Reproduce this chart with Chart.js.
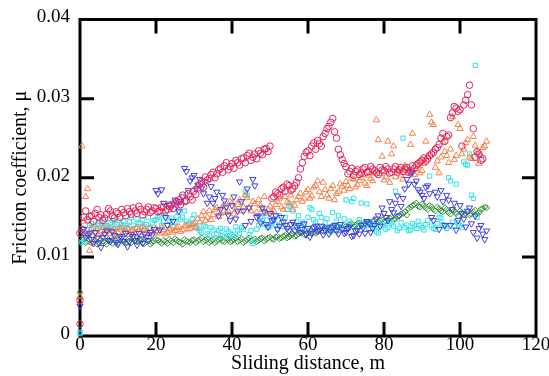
<!DOCTYPE html>
<html>
<head>
<meta charset="utf-8">
<script src="https://cdn.jsdelivr.net/npm/chart.js@4/dist/chart.umd.min.js"></script>
<style>
  html, body { margin: 0; padding: 0; background: #fff; }
</style>
</head>
<body>
<canvas id="myChart" width="549" height="376"></canvas>
<script>
// sliding distance (m): whole metres and the readings half a metre later
const distance = [0,1,2,3,4,5,6,7,8,9,10,11,12,13,14,15,16,17,18,19,20,21,22,23,24,25,26,27,28,29,
  30,31,32,33,34,35,36,37,38,39,40,41,42,43,44,45,46,47,48,49,50,51,52,53,54,55,56,57,58,59,
  60,61,62,63,64,65,66,67,68,69,70,71,72,73,74,75,76,77,78,79,80,81,82,83,84,85,86,87,88,89,
  90,91,92,93,94,95,96,97,98,99,100,101,102,103,104,105,106,107];
const distanceHalf = [0.5,1.5,2.5,3.5,4.5,5.5,6.5,7.5,8.5,9.5,10.5,11.5,12.5,13.5,14.5,15.5,16.5,17.5,18.5,19.5,
  20.5,21.5,22.5,23.5,24.5,25.5,26.5,27.5,28.5,29.5,30.5,31.5,32.5,33.5,34.5,35.5,36.5,37.5,38.5,39.5,
  40.5,41.5,42.5,43.5,44.5,45.5,46.5,47.5,48.5,49.5,50.5,51.5,52.5,53.5,54.5,55.5,56.5,57.5,58.5,59.5,
  60.5,61.5,62.5,63.5,64.5,65.5,66.5,67.5,68.5,69.5,70.5,71.5,72.5,73.5,74.5,75.5,76.5,77.5,78.5,79.5,
  80.5,81.5,82.5,83.5,84.5,85.5,86.5,87.5,88.5,89.5,90.5,91.5,92.5,93.5,94.5,95.5,96.5,97.5,98.5,99.5,
  100.5,101.5,102.5,103.5,104.5,105.5,106.5];

const xTicks = [0, 20, 40, 60, 80, 100, 120];
const yTicks = [0, 0.01, 0.02, 0.03, 0.04];

// friction coefficient
const redValues = [0.0045,0.0150,0.0147,0.0152,0.0155,0.0150,0.0146,0.0154,0.0158,0.0149,
  0.0155,0.0160,0.0152,0.0157,0.0162,0.0155,0.0160,0.0157,0.0163,0.0158,
  0.0161,0.0158,0.0163,0.0160,0.0166,0.0168,0.0172,0.0178,0.0171,0.0176,
  0.0183,0.0187,0.0195,0.0201,0.0199,0.0207,0.0205,0.0212,0.0215,0.0210,
  0.0218,0.0222,0.0216,0.0225,0.0228,0.0222,0.0230,0.0234,0.0229,0.0237,
  0.0240,0.0176,0.0180,0.0186,0.0183,0.0190,0.0186,0.0194,0.0211,0.0227,
  0.0234,0.0240,0.0236,0.0243,0.0252,0.0262,0.0270,0.0258,0.0236,0.0223,
  0.0214,0.0208,0.0203,0.0210,0.0206,0.0213,0.0208,0.0211,0.0206,0.0213,
  0.0209,0.0211,0.0207,0.0214,0.0210,0.0208,0.0213,0.0209,0.0212,0.0218,
  0.0222,0.0221,0.0228,0.0232,0.0238,0.0250,0.0246,0.0254,0.0282,0.0288,
  0.0286,0.0292,0.0305,0.0292,0.0226,0.0230,0.0224,null];
const redHalf = [0.0135,0.0158,0.0151,0.0145,0.0160,0.0153,0.0149,0.0161,0.0152,0.0157,
  0.0150,0.0156,0.0161,0.0154,0.0158,0.0164,0.0153,0.0160,0.0156,0.0162,
  0.0157,0.0163,0.0158,0.0164,0.0161,0.0170,0.0166,0.0170,0.0180,0.0172,
  0.0179,0.0192,0.0188,0.0197,0.0204,0.0200,0.0210,0.0207,0.0219,0.0214,
  0.0212,0.0219,0.0224,0.0219,0.0231,0.0226,0.0224,0.0231,0.0236,0.0233,
  0.0174,0.0182,0.0178,0.0188,0.0192,0.0184,0.0190,0.0200,0.0219,0.0232,
  0.0228,0.0244,0.0247,0.0240,0.0256,0.0265,0.0275,0.0250,0.0229,0.0218,
  0.0205,0.0212,0.0208,0.0204,0.0211,0.0207,0.0214,0.0209,0.0204,0.0210,
  0.0214,0.0206,0.0211,0.0207,0.0213,0.0211,0.0207,0.0215,0.0216,0.0220,
  0.0225,0.0224,0.0230,0.0236,0.0242,0.0256,0.0252,0.0276,0.0290,0.0284,
  0.0240,0.0298,0.0317,0.0262,0.0233,0.0222,null];
const redExtra = [[0,0.0015],[0,0.0130]];

const orangeValues = [0.0050,0.0145,0.0128,0.0136,0.0131,0.0128,0.0137,0.0133,0.0129,0.0135,
  0.0131,0.0138,0.0132,0.0128,0.0134,0.0137,0.0131,0.0135,0.0129,0.0133,
  0.0136,0.0130,0.0134,0.0131,0.0136,0.0133,0.0138,0.0134,0.0140,0.0136,
  0.0142,0.0148,0.0152,0.0146,0.0158,0.0153,0.0162,0.0155,0.0166,0.0158,
  0.0168,0.0160,0.0172,0.0163,0.0175,0.0158,0.0167,0.0172,0.0160,0.0155,
  0.0164,0.0158,0.0170,0.0163,0.0176,0.0168,0.0160,0.0172,0.0180,0.0174,
  0.0185,0.0177,0.0190,0.0182,0.0194,0.0178,0.0186,0.0172,0.0182,0.0189,
  0.0195,0.0186,0.0198,0.0191,0.0200,0.0193,0.0203,0.0196,0.0273,0.0205,
  0.0197,0.0246,0.0230,0.0201,0.0208,0.0198,0.0212,0.0242,0.0204,0.0215,
  0.0209,0.0246,0.0280,0.0267,0.0221,0.0226,0.0233,0.0219,0.0277,0.0228,
  0.0262,0.0236,0.0248,0.0224,0.0241,0.0218,0.0238,0.0246];
const orangeHalf = [0.0240,0.0176,0.0108,0.0127,0.0135,0.0132,0.0129,0.0136,0.0133,0.0127,
  0.0135,0.0130,0.0136,0.0133,0.0129,0.0134,0.0138,0.0131,0.0136,0.0130,
  0.0133,0.0137,0.0129,0.0135,0.0131,0.0137,0.0132,0.0139,0.0135,0.0141,
  0.0137,0.0144,0.0157,0.0150,0.0147,0.0160,0.0151,0.0163,0.0156,0.0170,
  0.0154,0.0166,0.0158,0.0178,0.0162,0.0170,0.0156,0.0165,0.0176,0.0160,
  0.0157,0.0166,0.0174,0.0160,0.0169,0.0178,0.0165,0.0176,0.0170,0.0182,
  0.0174,0.0188,0.0196,0.0176,0.0185,0.0174,0.0190,0.0180,0.0192,0.0184,
  0.0190,0.0199,0.0188,0.0196,0.0204,0.0190,0.0199,0.0206,0.0248,0.0227,
  0.0201,0.0194,0.0240,0.0210,0.0203,0.0215,0.0206,0.0256,0.0211,0.0206,
  0.0218,0.0227,0.0270,0.0213,0.0206,0.0245,0.0228,0.0236,0.0223,0.0267,
  0.0230,0.0244,0.0226,0.0252,0.0232,0.0228,0.0240];
const orangeExtra = [[2,0.0186],[3,0.0118]];

const blueValues = [0.0038,0.0135,0.0128,0.0122,0.0131,0.0118,0.0125,0.0133,0.0120,0.0127,
  0.0116,0.0124,0.0130,0.0119,0.0126,0.0115,0.0123,0.0129,0.0121,0.0128,
  0.0184,0.0134,0.0168,0.0140,0.0162,0.0172,0.0158,0.0176,0.0208,0.0196,
  0.0203,0.0191,0.0187,0.0195,0.0176,0.0168,0.0182,0.0160,0.0171,0.0153,
  0.0165,0.0148,0.0195,0.0158,0.0186,0.0145,0.0190,0.0152,0.0162,0.0141,
  0.0155,0.0147,0.0135,0.0150,0.0140,0.0133,0.0144,0.0138,0.0131,0.0142,
  0.0136,0.0130,0.0139,0.0134,0.0128,0.0137,0.0132,0.0140,0.0129,0.0135,
  0.0131,0.0138,0.0127,0.0134,0.0140,0.0130,0.0143,0.0136,0.0148,0.0139,
  0.0155,0.0146,0.0160,0.0168,0.0152,0.0174,0.0198,0.0205,0.0192,0.0185,
  0.0178,0.0188,0.0180,0.0146,0.0176,0.0184,0.0140,0.0172,0.0160,0.0134,
  0.0165,0.0148,0.0158,0.0142,0.0152,0.0136,0.0129,0.0133];
const blueHalf = [0.0132,0.0125,0.0130,0.0117,0.0124,0.0112,0.0129,0.0121,0.0132,0.0118,
  0.0126,0.0120,0.0113,0.0128,0.0121,0.0130,0.0117,0.0125,0.0131,0.0135,
  0.0180,0.0185,0.0150,0.0166,0.0145,0.0165,0.0170,0.0212,0.0184,0.0200,
  0.0186,0.0198,0.0180,0.0168,0.0189,0.0174,0.0152,0.0178,0.0163,0.0146,
  0.0176,0.0158,0.0170,0.0140,0.0162,0.0198,0.0150,0.0143,0.0157,0.0138,
  0.0146,0.0152,0.0139,0.0144,0.0136,0.0141,0.0133,0.0140,0.0135,0.0128,
  0.0125,0.0137,0.0132,0.0139,0.0134,0.0129,0.0138,0.0133,0.0141,0.0130,
  0.0136,0.0126,0.0133,0.0129,0.0137,0.0145,0.0131,0.0140,0.0152,0.0162,
  0.0150,0.0170,0.0156,0.0177,0.0164,0.0186,0.0192,0.0207,0.0196,0.0182,
  0.0174,0.0190,0.0150,0.0182,0.0135,0.0170,0.0178,0.0140,0.0168,0.0146,
  0.0155,0.0138,0.0162,0.0131,0.0124,0.0140,0.0122];
const blueExtra = [];

const cyanValues = [0.0005,0.0120,0.0135,0.0142,0.0138,0.0145,0.0140,0.0136,0.0143,0.0139,
  0.0146,0.0141,0.0137,0.0144,0.0140,0.0148,0.0142,0.0138,0.0150,0.0143,
  0.0147,0.0152,0.0145,0.0140,0.0149,0.0144,0.0156,0.0150,0.0145,0.0140,
  0.0153,0.0136,0.0131,0.0138,0.0127,0.0134,0.0129,0.0136,0.0125,0.0132,
  0.0128,0.0138,0.0130,0.0135,0.0178,0.0133,0.0121,0.0140,0.0146,0.0152,
  0.0139,0.0148,0.0135,0.0143,0.0150,0.0164,0.0158,0.0145,0.0137,0.0141,
  0.0150,0.0160,0.0144,0.0155,0.0138,0.0148,0.0133,0.0140,0.0152,0.0136,
  0.0172,0.0145,0.0174,0.0138,0.0168,0.0143,0.0135,0.0141,0.0132,0.0138,
  0.0144,0.0137,0.0142,0.0183,0.0136,0.0250,0.0140,0.0134,0.0139,0.0145,
  0.0137,0.0141,0.0202,0.0136,0.0142,0.0149,0.0138,0.0200,0.0144,0.0192,
  0.0140,0.0220,0.0216,0.0178,0.0342,0.0229,null,null];
const cyanHalf = [0.0118,0.0125,0.0140,0.0136,0.0141,0.0137,0.0144,0.0139,0.0146,0.0141,
  0.0137,0.0145,0.0140,0.0150,0.0136,0.0143,0.0147,0.0141,0.0137,0.0146,
  0.0150,0.0140,0.0153,0.0146,0.0138,0.0151,0.0147,0.0158,0.0142,0.0148,
  0.0139,0.0133,0.0140,0.0129,0.0137,0.0124,0.0133,0.0127,0.0135,0.0130,
  0.0126,0.0133,0.0137,0.0182,0.0128,0.0117,0.0135,0.0150,0.0141,0.0137,
  0.0145,0.0141,0.0152,0.0138,0.0160,0.0167,0.0140,0.0152,0.0144,0.0136,
  0.0162,0.0147,0.0139,0.0150,0.0143,0.0135,0.0156,0.0145,0.0138,0.0148,
  0.0140,0.0170,0.0133,0.0147,0.0139,0.0167,0.0144,0.0137,0.0130,0.0141,
  0.0135,0.0145,0.0139,0.0133,0.0143,0.0137,0.0133,0.0142,0.0136,0.0140,
  0.0134,0.0146,0.0139,0.0135,0.0150,0.0141,0.0136,0.0196,0.0139,0.0143,
  0.0137,0.0217,0.0230,0.0174,0.0150,null,null];
const cyanExtra = [[0,0.0003]];

const greenValues = [0.0055,0.0123,0.0120,0.0118,0.0121,0.0117,0.0120,0.0116,0.0119,0.0122,
  0.0118,0.0121,0.0117,0.0120,0.0123,0.0119,0.0121,0.0117,0.0120,0.0118,
  0.0122,0.0119,0.0121,0.0117,0.0120,0.0123,0.0119,0.0116,0.0120,0.0118,
  0.0122,0.0120,0.0124,0.0121,0.0118,0.0122,0.0120,0.0123,0.0119,0.0122,
  0.0120,0.0124,0.0121,0.0118,0.0122,0.0120,0.0123,0.0121,0.0124,0.0122,
  0.0125,0.0122,0.0126,0.0124,0.0127,0.0125,0.0129,0.0127,0.0130,0.0128,
  0.0131,0.0133,0.0130,0.0134,0.0132,0.0135,0.0137,0.0134,0.0138,0.0136,
  0.0139,0.0141,0.0138,0.0142,0.0140,0.0143,0.0141,0.0145,0.0143,0.0146,
  0.0144,0.0147,0.0150,0.0148,0.0152,0.0155,0.0153,0.0163,0.0166,0.0164,
  0.0167,0.0162,0.0165,0.0160,0.0163,0.0158,0.0162,0.0156,0.0160,0.0155,
  0.0158,0.0153,0.0157,0.0154,0.0159,0.0156,0.0161,0.0162];
const greenHalf = [0.0121,0.0118,0.0122,0.0119,0.0116,0.0121,0.0118,0.0122,0.0117,0.0120,
  0.0123,0.0119,0.0121,0.0118,0.0120,0.0122,0.0118,0.0121,0.0116,0.0120,
  0.0121,0.0117,0.0119,0.0122,0.0118,0.0121,0.0118,0.0122,0.0119,0.0121,
  0.0118,0.0122,0.0119,0.0123,0.0120,0.0118,0.0122,0.0120,0.0124,0.0119,
  0.0122,0.0119,0.0123,0.0120,0.0124,0.0121,0.0119,0.0123,0.0120,0.0124,
  0.0123,0.0125,0.0123,0.0126,0.0124,0.0128,0.0126,0.0129,0.0131,0.0129,
  0.0132,0.0131,0.0133,0.0136,0.0134,0.0137,0.0135,0.0139,0.0137,0.0140,
  0.0138,0.0142,0.0140,0.0143,0.0141,0.0144,0.0142,0.0146,0.0144,0.0147,
  0.0145,0.0149,0.0147,0.0151,0.0154,0.0157,0.0161,0.0165,0.0168,0.0163,
  0.0165,0.0160,0.0163,0.0158,0.0161,0.0157,0.0160,0.0154,0.0158,0.0152,
  0.0156,0.0155,0.0153,0.0157,0.0154,0.0160,0.0163];
const greenExtra = [];

function toPoints(values, half, extra) {
  const pts = [];
  values.forEach((v, i) => {
    if (v !== null) pts.push({ x: distance[i], y: v });
  });
  half.forEach((v, i) => {
    if (v !== null) pts.push({ x: distanceHalf[i], y: v });
  });
  extra.forEach((p) => pts.push({ x: p[0], y: p[1] }));
  return pts;
}

function series(values, half, extra, color, style, radius, rotation) {
  return {
    data: toPoints(values, half, extra),
    borderColor: color,
    backgroundColor: "rgba(0,0,0,0)",
    borderWidth: 1,
    pointStyle: style,
    pointRadius: radius,
    pointRotation: rotation || 0,
    clip: false,
  };
}

// inward ticks and the heavy frame round the plot
const framePlugin = {
  id: "frame",
  beforeDatasetsDraw(chart) {
    const { ctx, chartArea: a, scales } = chart;
    ctx.save();
    ctx.strokeStyle = "#000";
    ctx.lineWidth = 3;
    ctx.strokeRect(a.left, a.top, a.right - a.left, a.bottom - a.top);
    ctx.beginPath();
    xTicks.slice(1, -1).forEach((t) => {
      const x = scales.x.getPixelForValue(t);
      ctx.moveTo(x, a.bottom); ctx.lineTo(x, a.bottom - 14);
      ctx.moveTo(x, a.top); ctx.lineTo(x, a.top + 14);
    });
    yTicks.slice(1, -1).forEach((t) => {
      const y = scales.y.getPixelForValue(t);
      ctx.moveTo(a.left, y); ctx.lineTo(a.left + 14, y);
      ctx.moveTo(a.right, y); ctx.lineTo(a.right - 14, y);
    });
    ctx.stroke();
    ctx.restore();
  },
};

const tickFont = { family: "'Liberation Serif', serif", size: 19, lineHeight: 1 };
const titleFont = { family: "'Liberation Serif', serif", size: 20 };

new Chart(document.getElementById("myChart"), {
  type: "scatter",
  data: {
    datasets: [
      series(redValues, redHalf, redExtra, "#e3245a", "circle", 3.3),
      series(blueValues, blueHalf, blueExtra, "#3f3fe0", "triangle", 3.6, 180),
      series(orangeValues, orangeHalf, orangeExtra, "#f5814a", "triangle", 3.6),
      series(cyanValues, cyanHalf, cyanExtra, "#38e0e6", "rect", 3.0),
      series(greenValues, greenHalf, greenExtra, "#2f8f35", "rectRot", 3.0),
    ],
  },
  options: {
    responsive: false,
    animation: false,
    devicePixelRatio: 1,
    layout: { padding: { top: 17, right: 13, left: 0, bottom: 0 } },
    plugins: { legend: { display: false }, tooltip: { enabled: false } },
    scales: {
      x: {
        type: "linear",
        min: 0,
        max: 120,
        afterFit: (s) => {
          s.height = 40;
          s.paddingLeft = 0;
          s.paddingRight = 0;
        },
        afterBuildTicks: (s) => { s.ticks = xTicks.map((v) => ({ value: v })); },
        grid: { display: false, drawTicks: false },
        border: { display: false },
        ticks: { color: "#000", font: tickFont, padding: 0, maxRotation: 0 },
        title: {
          display: true,
          text: "Sliding distance, m",
          color: "#000",
          font: titleFont,
          padding: { top: 0, bottom: 0 },
        },
      },
      y: {
        min: 0,
        max: 0.04,
        afterFit: (s) => { s.width = 80; },
        afterBuildTicks: (s) => { s.ticks = yTicks.map((v) => ({ value: v })); },
        grid: { display: false, drawTicks: false },
        border: { display: false },
        ticks: {
          color: "#000",
          font: tickFont,
          padding: 10,
          labelOffset: -2,
          callback: (v) => (v === 0 ? "0" : v.toFixed(2)),
        },
        title: {
          display: true,
          text: "Friction coefficient, μ",
          color: "#000",
          font: titleFont,
          padding: { top: 9, bottom: 0 },
        },
      },
    },
  },
  plugins: [framePlugin],
});
</script>
</body>
</html>
